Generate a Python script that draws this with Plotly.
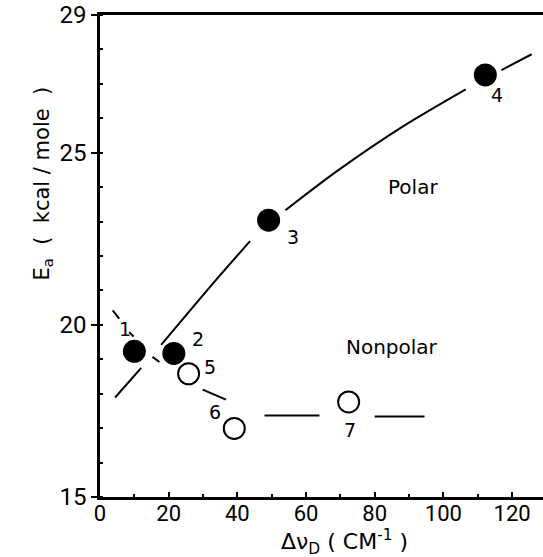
import plotly.graph_objects as go

# Data points
polar_x = [10.0, 21.5, 49.1, 112.2]
polar_y = [19.23, 19.17, 23.04, 27.26]
polar_labels = ["1", "2", "3", "4"]

nonpolar_x = [25.8, 39.1, 72.4]
nonpolar_y = [18.58, 16.99, 17.76]
nonpolar_labels = ["5", "6", "7"]

# Hand-drawn guide curves (segments with gaps)
polar_curve_x = [4.4, 12.0, None, 17.8, 33.3, 43.7, None, 54.0, 68.8, 88.0, 106.5, None, 116.9, 125.7]
polar_curve_y = [17.89, 18.75, None, 19.42, 21.25, 22.43, None, 23.33, 24.45, 25.75, 26.84, None, 27.40, 27.86]

nonpolar_curve_x = [3.7, 5.6, None, 8.5, 9.8, None, 15.3, 17.3, None, 29.9, 36.7, None, 47.9, 63.9, None, 80.0, 94.5]
nonpolar_curve_y = [20.42, 20.18, None, 19.79, 19.66, None, 19.07, 18.92, None, 18.12, 17.83, None, 17.37, 17.37, None, 17.34, 17.34]

# label positions for the point numbers
num_x = [7.4, 28.5, 56.2, 115.5, 32.1, 33.6, 72.7]
num_y = [19.87, 19.6, 22.56, 26.67, 18.78, 17.47, 16.94]
num_text = ["1", "2", "3", "4", "5", "6", "7"]

x_ticks = [0, 20, 40, 60, 80, 100, 120]
y_ticks = [15, 20, 25, 29]

FONT = "DejaVu Sans"
TICKFONT = "Roboto"

fig = go.Figure()
fig.add_trace(go.Scatter(x=polar_curve_x, y=polar_curve_y, mode="lines",
                         line=dict(color="black", width=2, shape="spline", smoothing=0.8),
                         connectgaps=False, showlegend=False, hoverinfo="skip"))
fig.add_trace(go.Scatter(x=nonpolar_curve_x, y=nonpolar_curve_y, mode="lines",
                         line=dict(color="black", width=2), connectgaps=False,
                         showlegend=False, hoverinfo="skip"))
fig.add_trace(go.Scatter(x=polar_x, y=polar_y, mode="markers", text=polar_labels,
                         marker=dict(size=23, color="black", line=dict(width=0)),
                         showlegend=False))
fig.add_trace(go.Scatter(x=nonpolar_x, y=nonpolar_y, mode="markers", text=nonpolar_labels,
                         marker=dict(size=21, color="white", line=dict(color="black", width=2)),
                         showlegend=False))

for tx, ty, tt in zip(num_x, num_y, num_text):
    fig.add_annotation(x=tx, y=ty, text=tt, showarrow=False,
                       font=dict(family=FONT, size=19, color="black"))

fig.add_annotation(x=91.1, y=24.0, text="Polar", showarrow=False,
                   font=dict(family=FONT, size=20, color="black"))
fig.add_annotation(x=85.0, y=19.36, text="Nonpolar", showarrow=False,
                   font=dict(family=FONT, size=20, color="black"))

# axis titles
fig.add_annotation(xref="paper", yref="paper", x=0.551, y=-0.094, yanchor="middle",
                   text="Δν<sub>D</sub> ( CM<sup>-1</sup> )", showarrow=False,
                   font=dict(family=FONT, size=22, color="black"))
fig.add_annotation(xref="paper", yref="paper", x=-0.162, y=0.651, textangle=-90,
                   text="E<sub>a</sub>  (  kcal / mole  )", showarrow=False,
                   font=dict(family=FONT, size=21, color="black"))

fig.update_xaxes(range=[0, 129], tickvals=x_ticks, ticks="inside", ticklen=5,
                 tickwidth=1.5, tickcolor="black", showline=True, linewidth=2.5,
                 linecolor="black", mirror=True, showgrid=False, zeroline=False,
                 automargin=False, ticklabeloverflow="allow", ticklabelstandoff=-5,
                 tickfont=dict(family=TICKFONT, size=22, color="black"),
                 minor=dict(dtick=10, tick0=0, ticks="inside", ticklen=3, tickcolor="black", tickwidth=1.5))
fig.update_yaxes(range=[15, 29], tickvals=y_ticks, ticks="outside", ticklen=6,
                 tickwidth=2, tickcolor="black", showline=True, linewidth=2.5,
                 linecolor="black", mirror=False, showgrid=False, zeroline=False,
                 automargin=False, ticklabeloverflow="allow",
                 tickfont=dict(family=TICKFONT, size=24, color="black"),
                 minor=dict(dtick=1, tick0=15, ticks="inside", ticklen=3, tickcolor="black", tickwidth=1.5))

fig.update_layout(width=543, height=557, margin=dict(l=100, r=0, t=15, b=60, autoexpand=False),
                  plot_bgcolor="white", paper_bgcolor="white", showlegend=False)

# remove the page's default 8px body margin so the figure fills the window
fig.write_html("out.html", config={"displayModeBar": False},
               post_script="document.body.style.margin='0';")
